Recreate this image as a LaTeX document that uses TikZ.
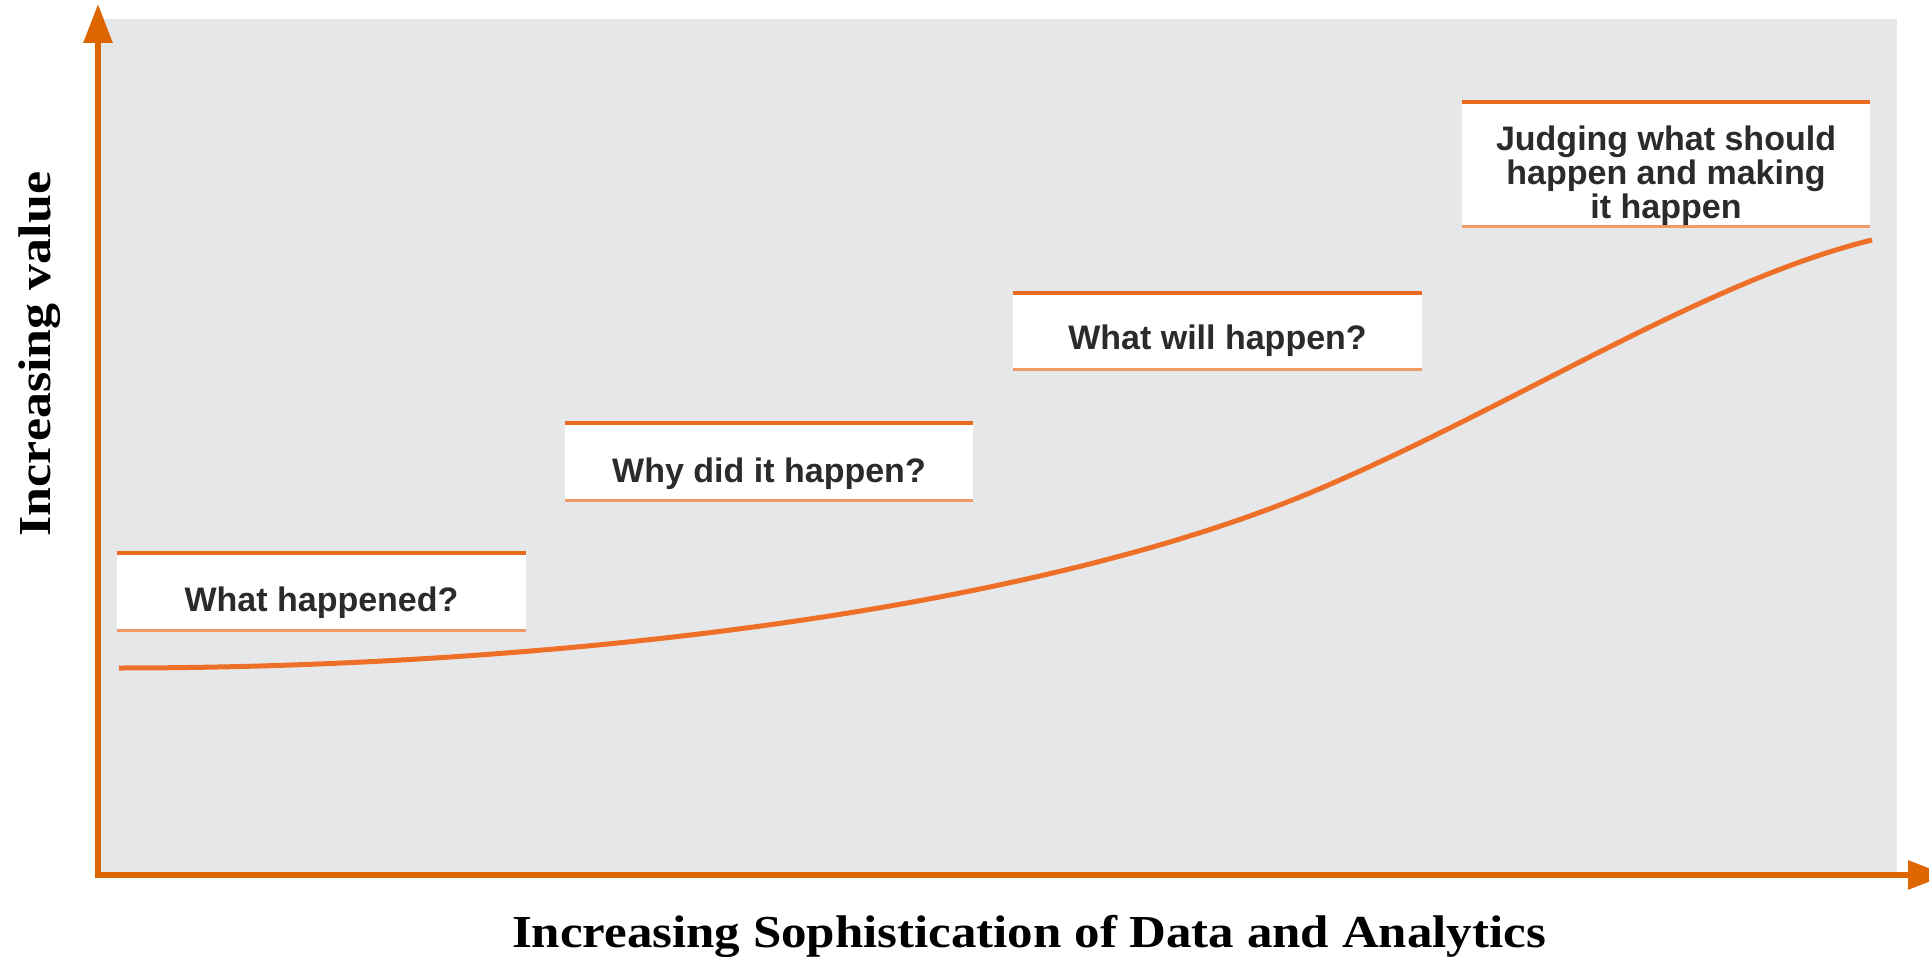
\documentclass[tikz,border=0pt]{standalone}
\usepackage{fontspec}
\usepackage{graphicx}
\usetikzlibrary{arrows.meta}
\newfontfamily\stagefont{Liberation Sans}
\newfontfamily\axisfont{Liberation Serif}
\definecolor{axisorange}{HTML}{DD6600}
\definecolor{curveorange}{HTML}{EE7028}
\definecolor{ruleorange}{HTML}{EA6A1E}
\definecolor{rulelight}{HTML}{F09A66}
\definecolor{panelgray}{HTML}{E6E7E9}
\definecolor{stageink}{HTML}{2B2B2B}

\begin{document}
\begin{tikzpicture}[x=0.5pt,y=-0.5pt,
  axis/.style={draw=axisorange, line width=3pt, -{Triangle[length=19.5pt,width=14pt]}},
  stagebox/.style={fill=white, draw=none, inner sep=0pt},
  topline/.style={draw=ruleorange, line width=2pt},
  bottomline/.style={draw=rulelight, line width=1.5pt},
  stagetext/.style={font={\stagefont\bfseries\fontsize{17pt}{17pt}\selectfont}, text=stageink, inner sep=0pt, align=center},
  axislabel/.style={font={\axisfont\bfseries\fontsize{26pt}{30pt}\selectfont}, text=black, inner sep=0pt},
  valuecurve/.style={draw=curveorange, line width=2.5pt}
]
\useasboundingbox (0,0) rectangle (1929,957);
\clip (0,0) rectangle (1929,957);

% chart panel
\fill[panelgray] (98,19) rectangle (1897,875);

% axes
\coordinate (corner) at (98,878);
\coordinate (xstart) at (95,875);
\coordinate (ytip) at (98,4);
\coordinate (xtip) at (1947,875);
\draw[axis] (corner) -- (ytip);
\draw[axis] (xstart) -- (xtip);

% value curve: flat start, steepening rise, easing off at the end
\coordinate (cstart) at (119,668);
\coordinate (cmid) at (1300,497);
\coordinate (cend) at (1872,240);
\draw[valuecurve] (cstart) .. controls (519,668) and (1000,618) .. (cmid)
  .. controls (1500,415) and (1700,282) .. (cend);

% stage boxes
\node[stagebox, minimum width=204.5pt, minimum height=38.5pt] (b1) at (321.5,591.5) {};
\node[stagebox, minimum width=204pt, minimum height=38.5pt] (b2) at (769,461.5) {};
\node[stagebox, minimum width=204.5pt, minimum height=38pt] (b3) at (1217.5,331) {};
\node[stagebox, minimum width=204pt, minimum height=62pt] (b4) at (1666,164) {};
\foreach \b in {b1,b2,b3,b4}{
  \draw[topline] (\b.north west) -- (\b.north east);
  \draw[bottomline] (\b.south west) -- (\b.south east);
}

% stage texts
\node[stagetext, anchor=base] (t1) at (321.5,611) {What happened?};
\node[stagetext, anchor=base] (t2) at (769,482) {Why did it happen?};
\node[stagetext, anchor=base] (t3) at (1217.5,350) {What will happen?};
\node[stagetext] (t4) at (1666,176) {Judging what should\\happen and making\\it happen};

% axis labels
\node[axislabel, anchor=base] (xlabel) at (1029,947)
  {\scalebox{0.98}[0.88]{Increasing Sophistication of Data and Analytics}};
\node[axislabel, anchor=base, rotate=90] (ylabel) at (50,354)
  {\scalebox{1}[0.88]{Increasing value}};
\end{tikzpicture}
\end{document}
